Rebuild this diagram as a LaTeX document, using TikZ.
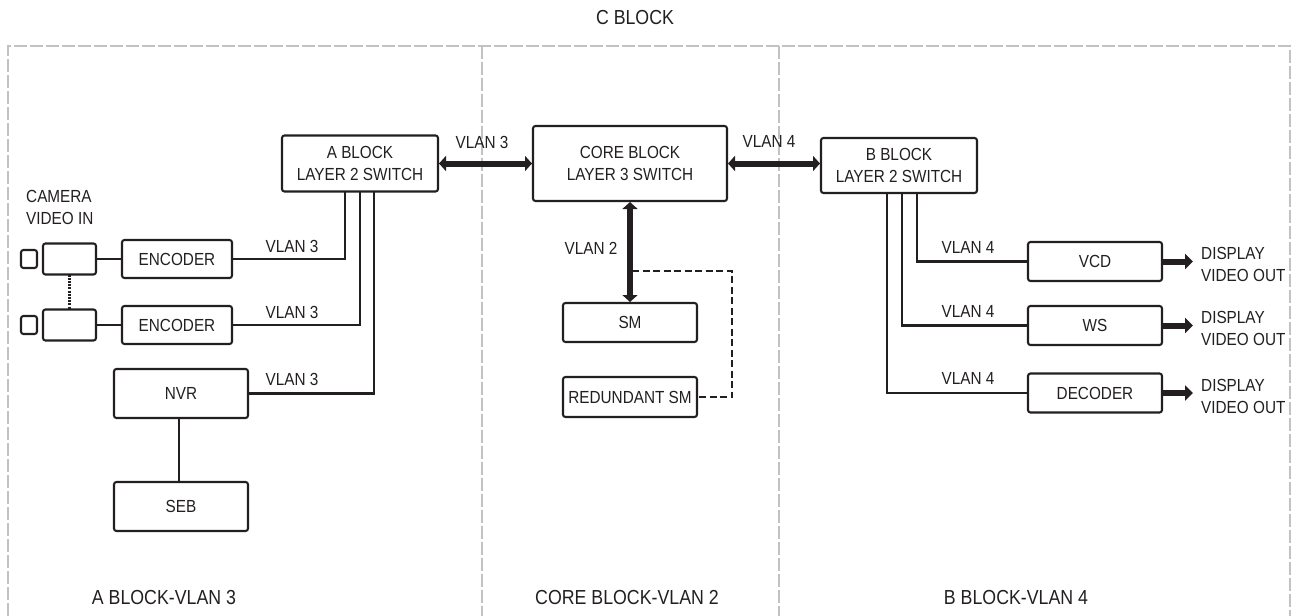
\documentclass[tikz,border=0pt]{standalone}
\usepackage{fontspec}
\setmainfont[FakeStretch=.875]{Liberation Sans}
\usetikzlibrary{arrows.meta}
\definecolor{InkBlack}{HTML}{231F20}
\definecolor{FrameGray}{HTML}{C2C2C6}
\tikzset{
  zone/.style={draw=FrameGray,line width=2.1pt,dash pattern=on 13pt off 3pt},
  unitbox/.style 2 args={draw=InkBlack,line width=2.1pt,rounded corners=2.5pt,inner sep=0pt,outer sep=0pt,
    minimum width=#1pt,minimum height=#2pt,align=center,figlabel},
  link/.style={draw=InkBlack,line width=2.1pt},
  sparelink/.style={draw=InkBlack,line width=2.1pt,dash pattern=on 7pt off 3.5pt},
  chain/.style={draw=InkBlack,line width=3.6pt,dash pattern=on 2pt off 1.2pt},
  trunk/.style={{Triangle[length=7pt,width=15pt]}-{Triangle[length=7pt,width=15pt]},draw=InkBlack,fill=InkBlack,line width=6pt,shorten <=1pt,shorten >=1pt},
  output/.style={-{Triangle[length=8pt,width=15pt]},draw=InkBlack,fill=InkBlack,line width=6pt},
  figlabel/.style={font=\fontsize{17.5}{22}\selectfont,text=InkBlack,inner sep=0pt},
  zonelabel/.style={font=\fontsize{20.3}{24}\selectfont,text=InkBlack,inner sep=0pt},
  sidelabel/.style={figlabel,align=left,anchor=west}
}
\begin{document}
\begin{tikzpicture}[x=1pt,y=-1pt]
  \useasboundingbox (0,0) rectangle (1291,616);
  % zones
  \draw[zone] (8,616) |- (1290,46) -- (1290,616);
  \draw[zone] (482,46) -- (482,616);
  \draw[zone] (779,46) -- (779,616);
  \node[zonelabel] (cblock) at (635,18) {C BLOCK};
  \node[zonelabel] (azone) at (164,598) {A BLOCK-VLAN 3};
  \node[zonelabel] (corezone) at (627,598) {CORE BLOCK-VLAN 2};
  \node[zonelabel] (bzone) at (1016,598) {B BLOCK-VLAN 4};
  % switches
  \node[unitbox={156}{56}] (aswitch) at (360,163.5) {A BLOCK\\LAYER 2 SWITCH};
  \node[unitbox={194}{75}] (coreswitch) at (630,163.5) {CORE BLOCK\\LAYER 3 SWITCH};
  \node[unitbox={156}{55}] (bswitch) at (899,165.5) {B BLOCK\\LAYER 2 SWITCH};
  \draw[trunk] (aswitch.east) -- (coreswitch.west);
  \draw[trunk] (coreswitch.east) -- ([yshift=2pt]bswitch.west);
  \node[figlabel] (vlanA) at (482,142) {VLAN 3};
  \node[figlabel] (vlanB) at (769,141) {VLAN 4};
  % core block
  \node[unitbox={134}{39}] (sm) at (630,322.5) {SM};
  \node[unitbox={134}{40}] (redsm) at (630,397) {REDUNDANT SM};
  \draw[trunk] (coreswitch.south) -- (sm.north);
  \node[figlabel] (vlanC) at (591,248) {VLAN 2};
  \coordinate (smtap) at (632,271);
  \coordinate (smbend) at (732,271);
  \draw[sparelink] (smtap) -- (smbend) |- (redsm.east);
  % a block
  \node[figlabel,align=left,anchor=west] (camlabel) at (26,207) {CAMERA\\VIDEO IN};
  \foreach \n/\ypos/\portx in {1/259/345,2/325/360}{
    \node[unitbox={16}{18}] (lens\n) at (29,\ypos) {};
    \node[unitbox={53}{31}] (cam\n) at (69.5,\ypos) {};
    \node[unitbox={110}{38}] (enc\n) at (177,\ypos) {ENCODER};
    \coordinate (aport\n) at (\portx,191);
    \draw[link] (cam\n) -- (enc\n);
    \draw[link] (enc\n.east) -| (aport\n);
    \node[figlabel] (vlanenc\n) at (292,\ypos-13) {VLAN 3};
  }
  \draw[chain] (cam1.south) -- (cam2.north);
  \node[unitbox={134}{49}] (nvr) at (181,393.5) {NVR};
  \node[unitbox={134}{49}] (seb) at (181,506.5) {SEB};
  \coordinate (aport3) at (374,191);
  \draw[link] (nvr.east) -| (aport3);
  \draw[link] ([xshift=-2pt]nvr.south) -- ([xshift=-2pt]seb.north);
  \node[figlabel] (vlannvr) at (292,379) {VLAN 3};
  % b block
  \foreach \n/\ypos/\portx/\tag in {1/261.5/917/VCD,2/325.5/902/WS,3/393/887/DECODER}{
    \node[unitbox={134}{39}] (out\n) at (1095,\ypos) {\tag};
    \coordinate (bport\n) at (\portx,193);
    \coordinate (arrowend\n) at (1193,\ypos);
    \draw[link] (out\n.west) -| (bport\n);
    \draw[output] (out\n.east) -- (arrowend\n);
    \node[figlabel] (vlanout\n) at (968,\ypos-14.5) {VLAN 4};
    \node[sidelabel] (display\n) at (1201,\ypos+3) {DISPLAY\\VIDEO OUT};
  }
\end{tikzpicture}
\end{document}
